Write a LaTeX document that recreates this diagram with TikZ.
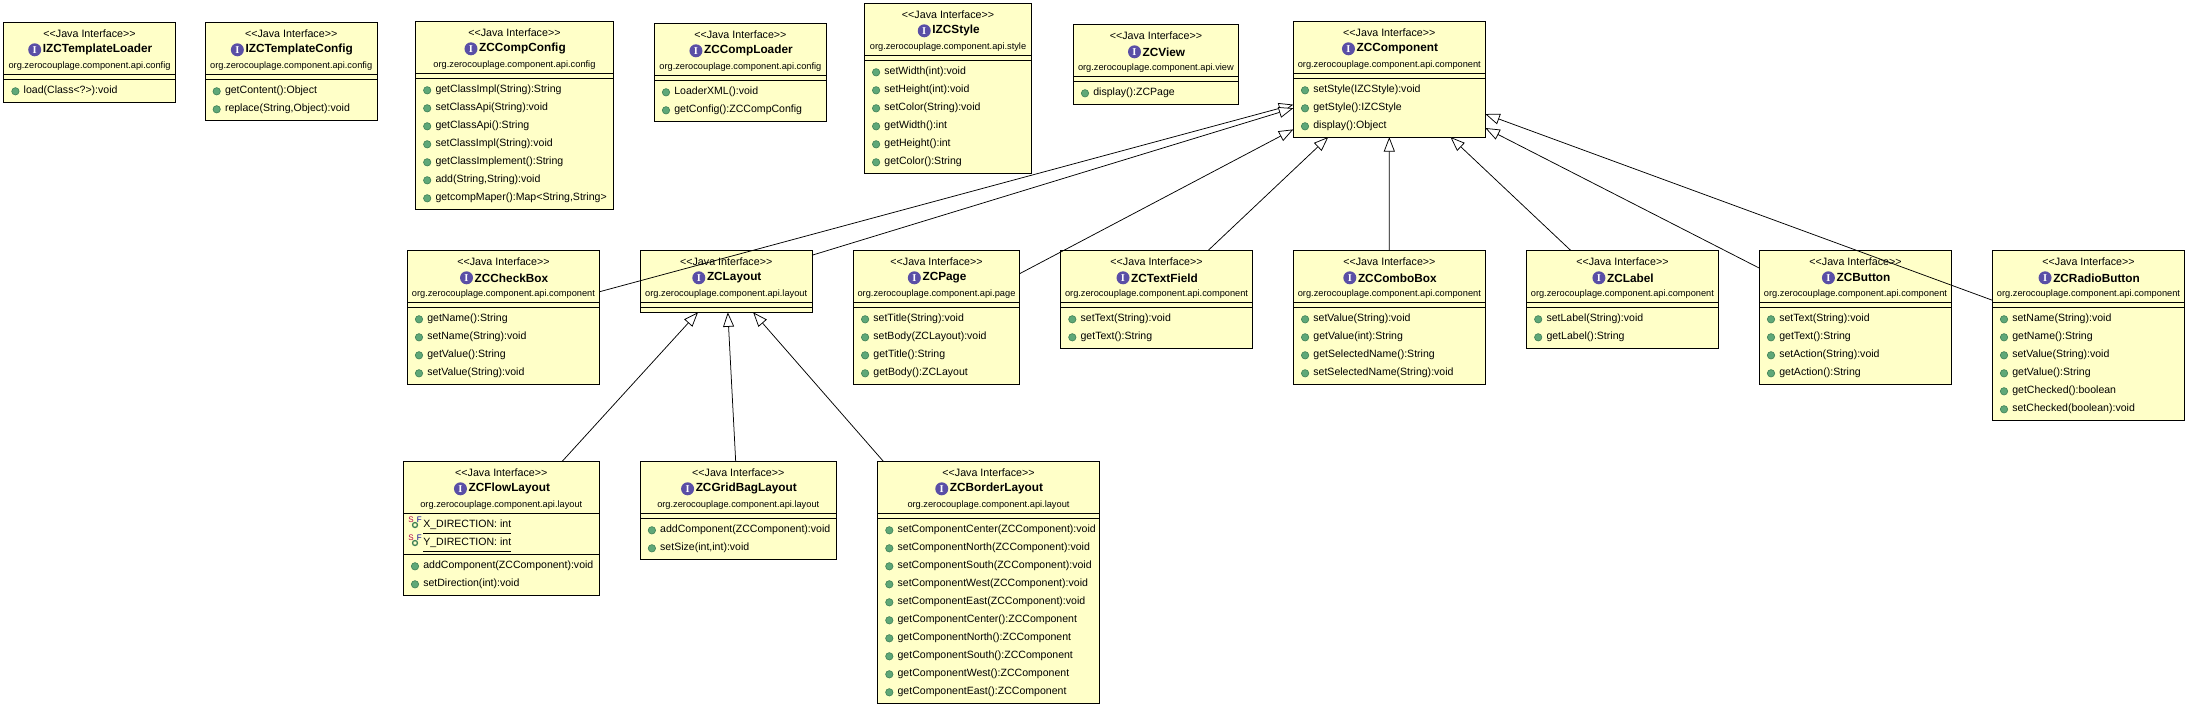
\documentclass[tikz,border=0pt]{standalone}
\usepackage{fontspec}
\setmainfont{Liberation Sans}
\newfontfamily\iconfont{Liberation Serif}
\usetikzlibrary{arrows.meta}
\definecolor{boxfill}{HTML}{FFFFC8}
\definecolor{iconpurple}{HTML}{5A4FA6}
\definecolor{dotgreen}{HTML}{5FA878}
\definecolor{dotedge}{HTML}{3E7F55}
\newcommand{\stereotype}{<{}<Java Interface>{}>}
\tikzset{
  shell/.style={draw=black,line width=1pt,fill=boxfill,rectangle,inner sep=0pt,outer sep=0pt},
  tx/.style={inner sep=0pt,outer sep=0pt,text=black,font=\fontsize{10.55}{12}\selectfont},
  stereo/.style={tx,anchor=center,font=\fontsize{10.7}{12}\selectfont},
  cname/.style={inner sep=0pt,outer sep=0pt,text=black,font=\fontsize{11.8}{13}\selectfont\bfseries},
  pkg/.style={tx,font=\fontsize{9.25}{11}\selectfont},
  meth/.style={tx,anchor=west},
  dot/.style={circle,draw=dotedge,fill=dotgreen,line width=.6pt,minimum size=7.4pt,inner sep=0pt},
  iicon/.style={circle,fill=iconpurple,minimum size=13pt,inner sep=0pt,text=white,font=\fontsize{10.5}{10}\iconfont\bfseries},
  inherit/.style={draw=black,line width=.75pt,-{Triangle[length=14.5pt,width=11pt,fill=white]}},
  sepline/.style={draw=black,line width=1pt}
}
% {id}{x0}{x1}{y0}{y1}
\newcommand{\umlbox}[5]{%
  \node[shell,minimum width={(#3-#2)*1pt},minimum height={(#5-#4)*1pt}] (#1) at ({(#2+#3)/2},{(#4+#5)/2}) {};
}
% [gap between separators]{id}{x0}{x1}{y0}{name}{package}{methods}
\newcommand{\umltext}[8][5]{%
  \pgfmathsetmacro{\cx}{(#3+#4)/2}%
  \pgfmathsetmacro{\ysa}{#5+52}%
  \pgfmathsetmacro{\ysb}{#5+52+#1}%
  \draw[sepline] (#2.west |- 0,\ysa) -- (#2.east |- 0,\ysa);
  \draw[sepline] (#2.west |- 0,\ysb) -- (#2.east |- 0,\ysb);
  \node[stereo] (#2-st) at (\cx,#5+11) {\stereotype};
  \node[cname] (#2-nm) at (\cx+8,#5+27.5) {#6};
  \node[iicon,anchor=east] (#2-ic) at ([xshift=-1.5pt]#2-nm.west) {I};
  \node[pkg] (#2-pk) at (\cx,#5+43.5) {#7};
  \if\relax\detokenize{#8}\relax\else
  \foreach \m [count=\i from 0] in {#8} {
    \pgfmathsetmacro{\my}{\ysb+12+18*\i}
    \node[dot] (#2-d\i) at (#3+11.7,\my) {};
    \node[meth] (#2-m\i) at (#3+20,\my) {\strut\m};
  }\fi
}
\begin{document}
\begin{tikzpicture}[x=1pt,y=-1pt]
\useasboundingbox (0,0) rectangle (2188,707);
% shells
\umlbox{tl}{3.7}{175.4}{22.3}{102.3}
\umlbox{tc}{205}{377.4}{22.3}{120.3}
\umlbox{cc}{415.5}{613.4}{21.3}{209.3}
\umlbox{cl}{654.3}{826.5}{23.3}{121.3}
\umlbox{st}{864.4}{1031.7}{3.3}{173.3}
\umlbox{vw}{1073.3}{1238.5}{24.3}{104.3}
\umlbox{cm}{1293.3}{1485.3}{21.3}{137}
\umlbox{cb}{407.3}{599.6}{250.3}{384.3}
\umlbox{ly}{640.4}{812}{250.3}{312.3}
\umlbox{pg}{853.4}{1019.6}{250.3}{384.3}
\umlbox{tf}{1060.6}{1252.5}{250.3}{348.3}
\umlbox{co}{1293.4}{1485.3}{250.3}{384.3}
\umlbox{lb}{1526.5}{1718.3}{250.3}{348.3}
\umlbox{bt}{1759.3}{1951.7}{250.3}{384.3}
\umlbox{rb}{1992.3}{2184.7}{250.3}{420.3}
\umlbox{fl}{403.3}{599.3}{461.3}{595.3}
\umlbox{gb}{640.2}{836.3}{461.3}{559.3}
\umlbox{bl}{877.6}{1099.4}{461.3}{703.3}
% contents
\umltext{tl}{3.7}{175.4}{22.3}{IZCTemplateLoader}{org.zerocouplage.component.api.config}{{load(Class<?>):void}}
\umltext{tc}{205}{377.4}{22.3}{IZCTemplateConfig}{org.zerocouplage.component.api.config}{{getContent():Object},{replace(String,Object):void}}
\umltext{cc}{415.5}{613.4}{21.3}{ZCCompConfig}{org.zerocouplage.component.api.config}{{getClassImpl(String):String},{setClassApi(String):void},{getClassApi():String},{setClassImpl(String):void},{getClassImplement():String},{add(String,String):void},{getcompMaper():Map<String,String>}}
\umltext{cl}{654.3}{826.5}{23.3}{ZCCompLoader}{org.zerocouplage.component.api.config}{{LoaderXML():void},{getConfig():ZCCompConfig}}
\umltext{st}{864.4}{1031.7}{3.3}{IZCStyle}{org.zerocouplage.component.api.style}{{setWidth(int):void},{setHeight(int):void},{setColor(String):void},{getWidth():int},{getHeight():int},{getColor():String}}
\umltext{vw}{1073.3}{1238.5}{24.3}{ZCView}{org.zerocouplage.component.api.view}{{display():ZCPage}}
\umltext{cm}{1293.3}{1485.3}{21.3}{ZCComponent}{org.zerocouplage.component.api.component}{{setStyle(IZCStyle):void},{getStyle():IZCStyle},{display():Object}}
\umltext{cb}{407.3}{599.6}{250.3}{ZCCheckBox}{org.zerocouplage.component.api.component}{{getName():String},{setName(String):void},{getValue():String},{setValue(String):void}}
\umltext{ly}{640.4}{812}{250.3}{ZCLayout}{org.zerocouplage.component.api.layout}{}
\umltext{pg}{853.4}{1019.6}{250.3}{ZCPage}{org.zerocouplage.component.api.page}{{setTitle(String):void},{setBody(ZCLayout):void},{getTitle():String},{getBody():ZCLayout}}
\umltext{tf}{1060.6}{1252.5}{250.3}{ZCTextField}{org.zerocouplage.component.api.component}{{setText(String):void},{getText():String}}
\umltext{co}{1293.4}{1485.3}{250.3}{ZCComboBox}{org.zerocouplage.component.api.component}{{setValue(String):void},{getValue(int):String},{getSelectedName():String},{setSelectedName(String):void}}
\umltext{lb}{1526.5}{1718.3}{250.3}{ZCLabel}{org.zerocouplage.component.api.component}{{setLabel(String):void},{getLabel():String}}
\umltext{bt}{1759.3}{1951.7}{250.3}{ZCButton}{org.zerocouplage.component.api.component}{{setText(String):void},{getText():String},{setAction(String):void},{getAction():String}}
\umltext{rb}{1992.3}{2184.7}{250.3}{ZCRadioButton}{org.zerocouplage.component.api.component}{{setName(String):void},{getName():String},{setValue(String):void},{getValue():String},{getChecked():boolean},{setChecked(boolean):void}}
\umltext[41]{fl}{403.3}{599.3}{461.3}{ZCFlowLayout}{org.zerocouplage.component.api.layout}{{addComponent(ZCComponent):void},{setDirection(int):void}}
\umltext{gb}{640.2}{836.3}{461.3}{ZCGridBagLayout}{org.zerocouplage.component.api.layout}{{addComponent(ZCComponent):void},{setSize(int,int):void}}
\umltext{bl}{877.6}{1099.4}{461.3}{ZCBorderLayout}{org.zerocouplage.component.api.layout}{{setComponentCenter(ZCComponent):void},{setComponentNorth(ZCComponent):void},{setComponentSouth(ZCComponent):void},{setComponentWest(ZCComponent):void},{setComponentEast(ZCComponent):void},{getComponentCenter():ZCComponent},{getComponentNorth():ZCComponent},{getComponentSouth():ZCComponent},{getComponentWest():ZCComponent},{getComponentEast():ZCComponent}}
% static fields of ZCFlowLayout
\foreach \fn/\fy/\ft in {a/525/X\_DIRECTION: int,b/543/Y\_DIRECTION: int} {
  \node[meth] (fl-f\fn) at (423.3,\fy) {\strut\ft};
  \node[circle,draw=dotedge,line width=1.3pt,minimum size=5pt,inner sep=0pt] (fl-r\fn) at (415,\fy) {};
  \node[inner sep=0pt,text=red!70!blue,font=\fontsize{8}{8}\selectfont] (fl-s\fn) at (411,\fy-5) {S};
  \node[inner sep=0pt,text=blue!60!black,font=\fontsize{8}{8}\selectfont] (fl-t\fn) at (419.3,\fy-5) {F};
  \draw[black,line width=.9pt] ([yshift=-8.3pt]fl-f\fn.west) -- ([yshift=-8.3pt]fl-f\fn.east);
}
% connectors
\foreach \c in {cb,ly,pg,tf,co,lb,bt,rb} {\draw[inherit] (\c) -- (cm);}
\foreach \c in {fl,gb,bl} {\draw[inherit] (\c) -- (ly);}
\end{tikzpicture}
\end{document}
